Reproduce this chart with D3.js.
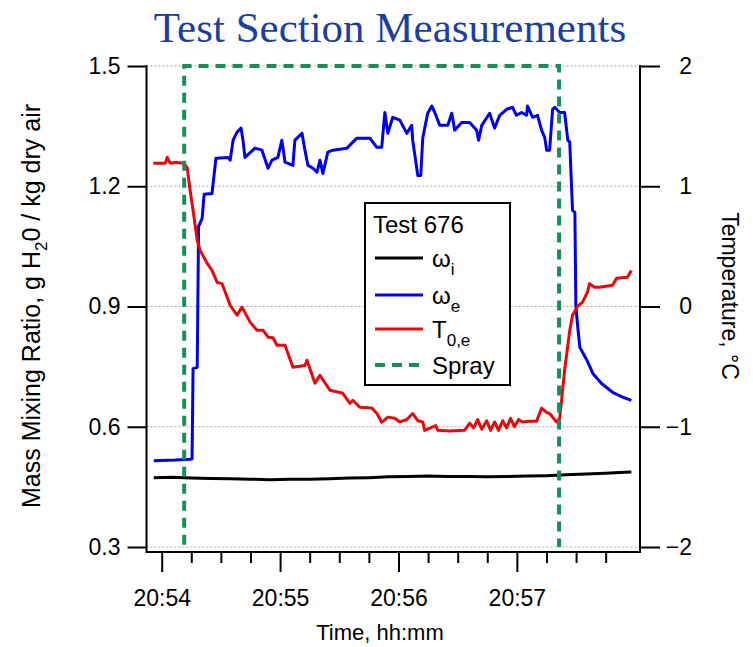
<!DOCTYPE html>
<html>
<head>
<meta charset="utf-8">
<script src="https://cdn.jsdelivr.net/npm/d3@7"></script>
<style>
  body { margin: 0; background: #fff; }
  svg { font-family: "Liberation Sans", Arial, sans-serif; }
</style>
</head>
<body>
<script>
// times are seconds after 20:54:00
var omegaITime  = [-4, 5, 15, 25, 35, 45, 55, 65, 75, 85, 95, 105, 115, 125, 135, 145, 155, 165, 175, 185, 195, 205, 215, 225, 232, 238];
var omegaIValue = [0.473, 0.474, 0.472, 0.471, 0.470, 0.469, 0.468, 0.469, 0.469, 0.470, 0.472, 0.473, 0.475, 0.476, 0.477, 0.476, 0.476, 0.475, 0.476, 0.477, 0.478, 0.480, 0.482, 0.484, 0.486, 0.487];

var omegaETime  = [-4, -0.8, 6.8, 14.4, 15.4, 15.9, 18.0, 18.7, 20.5, 21.5, 25.5, 27.5, 33.6, 34.7, 36.2, 38.2, 40.2, 41.2, 42.2, 47.3, 50.8, 53.9, 55.9, 58.9, 60.9, 62.5, 66.5, 67.5, 71.1, 72.6, 74.1, 76.7, 78.7, 80.2, 81.7, 84.2, 86.8, 93.9, 98.9, 105.5, 109.0, 111.5, 113.1, 114.6, 117.1, 120.7, 124.2, 126.7, 127.2, 129.8, 131.3, 132.3, 134.8, 136.9, 138.4, 140.9, 145.0, 147.0, 148.5, 152.0, 156.1, 159.6, 160.6, 162.2, 166.2, 168.7, 171.3, 174.8, 177.8, 179.8, 182.4, 184.9, 185.4, 188.0, 190.5, 192.5, 194.1, 195.1, 196.6, 198.1, 199.2, 201.7, 204.2, 205.8, 206.8, 208.2, 209.4, 209.9, 210.9, 211.9, 215.5, 218.5, 222.9, 228.5, 233.6, 238.0];
var omegaEValue = [0.515, 0.516, 0.517, 0.519, 0.52, 0.745, 0.748, 1.10, 1.12, 1.18, 1.182, 1.27, 1.272, 1.265, 1.315, 1.335, 1.345, 1.315, 1.272, 1.295, 1.29, 1.245, 1.265, 1.272, 1.315, 1.26, 1.252, 1.315, 1.332, 1.29, 1.252, 1.245, 1.235, 1.265, 1.232, 1.285, 1.29, 1.295, 1.32, 1.32, 1.297, 1.297, 1.384, 1.332, 1.372, 1.365, 1.332, 1.352, 1.315, 1.227, 1.227, 1.32, 1.382, 1.40, 1.384, 1.352, 1.352, 1.382, 1.34, 1.359, 1.359, 1.34, 1.315, 1.352, 1.382, 1.345, 1.377, 1.392, 1.397, 1.377, 1.384, 1.377, 1.40, 1.372, 1.377, 1.34, 1.322, 1.29, 1.29, 1.392, 1.397, 1.384, 1.384, 1.315, 1.31, 1.14, 1.135, 0.9, 0.847, 0.798, 0.766, 0.733, 0.708, 0.686, 0.674, 0.666];

var tempTime  = [-4.3, 1.8, 2.8, 4.3, 7.3, 10.9, 12.9, 14.4, 15.9, 18.0, 19.5, 23.0, 25.5, 28.1, 30.6, 34.7, 38.2, 40.7, 44.8, 48.3, 51.3, 53.9, 56.4, 58.4, 62.5, 66.5, 72.6, 73.6, 77.7, 80.2, 85.3, 91.8, 95.4, 96.9, 100.4, 106.5, 109.0, 111.5, 114.6, 118.1, 120.7, 124.2, 127.2, 129.8, 132.3, 133.3, 138.9, 139.9, 145.9, 153.5, 156.1, 158.1, 160.1, 162.2, 164.7, 166.7, 168.7, 170.7, 172.8, 174.8, 176.8, 178.8, 180.9, 182.9, 186.4, 190.0, 192.5, 195.1, 196.6, 200.1, 201.7, 204.2, 206.8, 208.2, 210.7, 213.3, 215.8, 216.8, 219.4, 221.9, 228.5, 230.5, 236.0, 238.0];
var tempValue = [1.192, 1.192, 1.24, 1.192, 1.20, 1.192, 1.158, 0.967, 0.80, 0.55, 0.467, 0.36, 0.30, 0.20, 0.19, 0.01, -0.072, -0.005, -0.13, -0.197, -0.197, -0.255, -0.26, -0.322, -0.322, -0.505, -0.49, -0.447, -0.638, -0.572, -0.697, -0.722, -0.805, -0.78, -0.838, -0.845, -0.888, -0.963, -0.92, -0.93, -0.96, -0.94, -0.89, -0.95, -0.96, -1.03, -0.99, -1.03, -1.035, -1.03, -0.97, -1.01, -0.94, -1.02, -0.95, -1.03, -0.96, -1.03, -0.95, -1.01, -0.93, -1.0, -0.94, -0.96, -0.955, -0.955, -0.846, -0.88, -0.89, -0.96, -0.93, -0.53, -0.2, -0.072, 0.0, 0.036, 0.12, 0.19, 0.16, 0.16, 0.176, 0.235, 0.243, 0.3];

var sprayTime  = [-4, 11.4, 11.4, 201.4, 201.4, 238];
var sprayValue = [0, 0, 1.5, 1.5, 0, 0];

var leftTicks  = [0.3, 0.6, 0.9, 1.2, 1.5];
var rightTicks = [-2, -1, 0, 1, 2];
var majorTickSec = [0, 60, 120, 180];
var minorTickSec = [15, 30, 45, 75, 90, 105, 135, 150, 165, 195, 210, 225];

var width = 753, height = 647;
var pL = 146.5, pR = 640, pT = 66, pB = 547, axisY = 552;

var t0 = new Date(2016, 0, 1, 20, 54, 0);
function toDate(s) { return new Date(t0.getTime() + s * 1000); }

var x = d3.scaleTime().domain([toDate(-7.7), toDate(242.4)]).range([pL, pR]);
var yL = d3.scaleLinear().domain([0.3, 1.5]).range([pB, pT]);
var yR = d3.scaleLinear().domain([-2, 2]).range([pB, pT]);

var svg = d3.select("body").append("svg")
    .attr("width", width)
    .attr("height", height);

svg.append("defs").append("clipPath").attr("id", "plot")
  .append("rect")
    .attr("x", pL).attr("y", pT - 3)
    .attr("width", pR - pL).attr("height", pB - pT + 3);

// title
svg.append("text")
    .attr("x", 390).attr("y", 42)
    .attr("text-anchor", "middle")
    .style("font-family", "'Liberation Serif', 'Times New Roman', serif")
    .style("font-size", "43px")
    .attr("fill", "#1c3f9e")
    .text("Test Section Measurements");

// gridlines
svg.append("g").selectAll("line")
  .data(leftTicks)
  .enter().append("line")
    .attr("x1", pL).attr("x2", pR)
    .attr("y1", function(d) { return yL(d); })
    .attr("y2", function(d) { return yL(d); })
    .attr("stroke", "#aaa")
    .attr("stroke-width", 1)
    .attr("stroke-dasharray", "2,2");

function pairs(ts, vs) { return ts.map(function(t, i) { return [toDate(t), vs[i]]; }); }

var plot = svg.append("g").attr("clip-path", "url(#plot)");

var lineL = d3.line().x(function(d) { return x(d[0]); }).y(function(d) { return yL(d[1]); });
var lineR = d3.line().x(function(d) { return x(d[0]); }).y(function(d) { return yR(d[1]); });

plot.append("path")
    .datum(pairs(omegaITime, omegaIValue))
    .attr("d", lineL).attr("fill", "none")
    .attr("stroke", "#000").attr("stroke-width", 3);

plot.append("path")
    .datum(pairs(omegaETime, omegaEValue))
    .attr("d", lineL).attr("fill", "none")
    .attr("stroke", "#0000ee").attr("stroke-width", 3)
    .attr("stroke-linejoin", "round");

plot.append("path")
    .datum(pairs(tempTime, tempValue))
    .attr("d", lineR).attr("fill", "none")
    .attr("stroke", "#e8080c").attr("stroke-width", 3)
    .attr("stroke-linejoin", "round");

plot.append("path")
    .datum(pairs(sprayTime, sprayValue))
    .attr("d", lineL).attr("fill", "none")
    .attr("stroke", "#16905a").attr("stroke-width", 4)
    .attr("stroke-dasharray", "10,7");

// axes
svg.append("g")
    .attr("transform", "translate(" + pL + ",0)")
    .call(d3.axisLeft(yL).tickValues(leftTicks).tickFormat(d3.format(".1f")).tickSize(19).tickPadding(7).tickSizeOuter(0));

var axisRight = svg.append("g")
    .attr("transform", "translate(" + pR + ",0)")
    .call(d3.axisRight(yR).tickValues(rightTicks).tickFormat(d3.format("d")).tickSize(20).tickSizeOuter(0));
axisRight.selectAll("text").attr("x", 52).attr("text-anchor", "end");

svg.append("g")
    .attr("transform", "translate(0," + axisY + ")")
    .call(d3.axisBottom(x).tickValues(minorTickSec.map(toDate)).tickFormat("").tickSize(11).tickSizeOuter(0));

svg.append("g")
    .attr("transform", "translate(0," + axisY + ")")
    .call(d3.axisBottom(x).tickValues(majorTickSec.map(toDate)).tickFormat(d3.timeFormat("%H:%M")).tickSize(20).tickPadding(18).tickSizeOuter(0));

svg.selectAll(".domain").remove();
svg.selectAll(".tick line").attr("stroke", "#000").attr("stroke-width", 2);
svg.selectAll(".tick text")
    .attr("fill", "#000")
    .style("font-family", "'Liberation Sans', Arial, sans-serif")
    .style("font-size", "23px");

// axis lines, open at the top like the original
svg.append("line").attr("x1", pL).attr("x2", pL).attr("y1", pT - 1).attr("y2", axisY + 1)
    .attr("stroke", "#000").attr("stroke-width", 2);
svg.append("line").attr("x1", pR).attr("x2", pR).attr("y1", pT - 1).attr("y2", axisY + 1)
    .attr("stroke", "#000").attr("stroke-width", 2);
svg.append("line").attr("x1", pL).attr("x2", pR).attr("y1", axisY).attr("y2", axisY)
    .attr("stroke", "#000").attr("stroke-width", 2);

// axis titles
var yTitle = svg.append("text")
    .attr("transform", "translate(40,306) rotate(-90)")
    .attr("text-anchor", "middle")
    .style("font-size", "25px");
yTitle.append("tspan").text("Mass Mixing Ratio, g H");
yTitle.append("tspan").attr("dy", 7).style("font-size", "17px").text("2");
yTitle.append("tspan").attr("dy", -7).text("0 / kg dry air");

svg.append("text")
    .attr("transform", "translate(722,296) rotate(90)")
    .attr("text-anchor", "middle")
    .style("font-size", "23px")
    .text("Temperature, \u00b0C");

svg.append("text")
    .attr("x", 380).attr("y", 640)
    .attr("text-anchor", "middle")
    .style("font-size", "22px")
    .text("Time, hh:mm");

// legend
var legend = svg.append("g");
legend.append("rect")
    .attr("x", 365).attr("y", 203).attr("width", 145).attr("height", 182)
    .attr("fill", "#fff").attr("stroke", "#000").attr("stroke-width", 2);
legend.append("text").attr("x", 373).attr("y", 233).style("font-size", "24px").text("Test 676");

var legendItems = [
  { color: "#000", dash: null, main: "\u03c9", sub: "i" },
  { color: "#0000ee", dash: null, main: "\u03c9", sub: "e" },
  { color: "#e8080c", dash: null, main: "T", sub: "0,e" },
  { color: "#16905a", dash: "10,7", main: "Spray", sub: "" }
];
var rowY = [258, 295, 329, 365];

legendItems.forEach(function(item, i) {
  legend.append("line")
      .attr("x1", 375).attr("x2", 423)
      .attr("y1", rowY[i]).attr("y2", rowY[i])
      .attr("stroke", item.color)
      .attr("stroke-width", item.dash ? 4 : 3)
      .attr("stroke-dasharray", item.dash);
  var t = legend.append("text").attr("x", 432).attr("y", rowY[i] + 9).style("font-size", "24px");
  t.append("tspan").text(item.main);
  if (item.sub) t.append("tspan").attr("dy", 8).style("font-size", "17px").text(item.sub);
});
</script>
</body>
</html>
